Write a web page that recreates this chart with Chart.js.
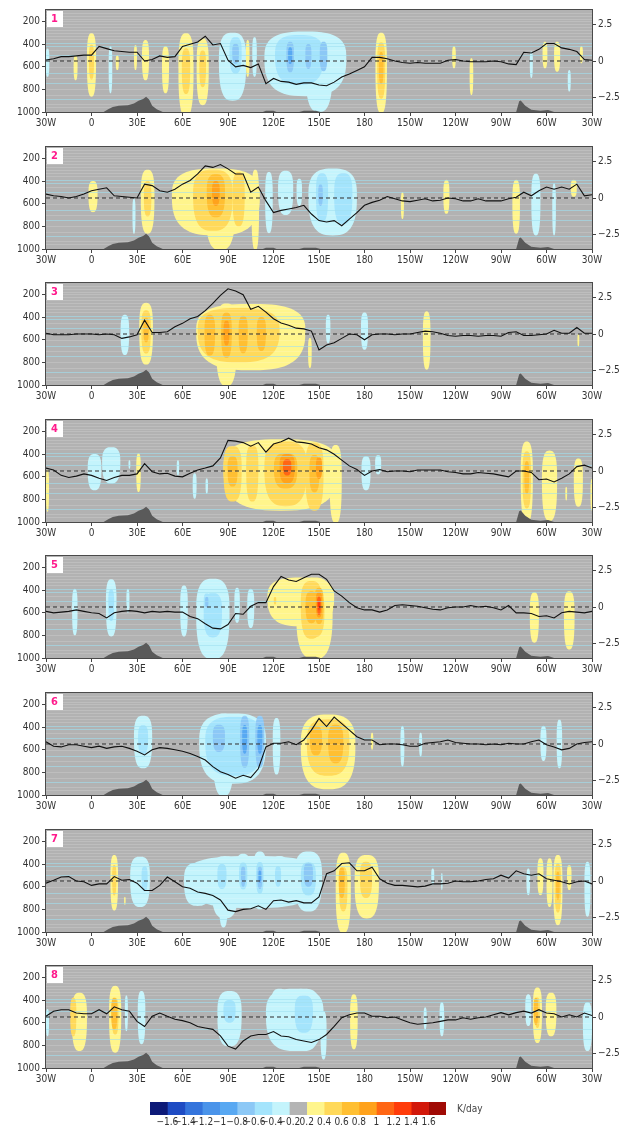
<!DOCTYPE html>
<html>
<head>
<meta charset="utf-8">
<script src="https://cdn.jsdelivr.net/npm/chart.js@4.4.1/dist/chart.umd.min.js"></script>
<style>
  html, body { margin: 0; padding: 0; background: #fff; }
  body { width: 630px; height: 1133px; position: relative; overflow: hidden; }
  canvas { position: absolute; left: 0; }
</style>
</head>
<body>
<script>
// longitude grid of the index curve (degrees east, -30 = 30W, 330 = 30W again)
const lonGrid = [
  -30, -25, -20, -15, -10, -5,
  0, 5, 10, 15, 20, 25,
  30, 35, 40, 45, 50, 55,
  60, 65, 70, 75, 80, 85,
  90, 95, 100, 105, 110, 115,
  120, 125, 130, 135, 140, 145,
  150, 155, 160, 165, 170, 175,
  180, 185, 190, 195, 200, 205,
  210, 215, 220, 225, 230, 235,
  240, 245, 250, 255, 260, 265,
  270, 275, 280, 285, 290, 295,
  300, 305, 310, 315, 320, 325,
  330
];

const lonTicks = [-30, 0, 30, 60, 90, 120, 150, 180, 210, 240, 270, 300, 330];
const lonLabels = ["30W", "0", "30E", "60E", "90E", "120E", "150E", "180", "150W", "120W", "90W", "60W", "30W"];
const pressureTicks = [200, 400, 600, 800, 1000];
const indexTicks = [-2.5, 0, 2.5];
const indexLabels = ["\u22122.5", "0", "2.5"];

// index curve per phase (right axis)
const curve1 = [
  0.07, 0.15, 0.3, 0.3, 0.35, 0.4,
  0.4, 1.0, 0.85, 0.7, 0.65, 0.6,
  0.6, 0.0, 0.1, 0.35, 0.25, 0.3,
  1.0, 1.15, 1.3, 1.7, 1.1, 1.2,
  0.05, -0.4, -0.3, -0.45, -0.2, -1.55,
  -1.2, -1.4, -1.45, -1.6, -1.5, -1.5,
  -1.65, -1.7, -1.45, -1.1, -0.9, -0.65,
  -0.4, 0.25, 0.25, 0.15, 0.0, -0.1,
  -0.15, -0.1, -0.15, -0.15, -0.15, 0.05,
  0.1, 0.0, -0.05, -0.05, -0.05, 0.0,
  -0.05, -0.2, -0.25, 0.6, 0.55, 0.8,
  1.2, 1.2, 0.9, 0.8, 0.65, 0.1,
  0.05
];
const curve2 = [
  0.27, 0.15, 0.1, 0.0, 0.1, 0.27,
  0.5, 0.6, 0.7, 0.15, 0.1, 0.05,
  0.0, 0.95, 0.85, 0.5, 0.4, 0.6,
  0.95, 1.2, 1.65, 2.2, 2.1, 2.3,
  2.0, 1.65, 1.65, 0.4, 0.75, -0.2,
  -1.0, -0.85, -0.75, -0.65, -0.5, -1.1,
  -1.55, -1.65, -1.55, -1.9, -1.45, -1.0,
  -0.5, -0.3, -0.15, 0.1, -0.05, -0.2,
  -0.25, -0.15, -0.05, -0.2, -0.15, 0.0,
  -0.05, -0.2, -0.2, -0.05, -0.2, -0.2,
  -0.2, -0.05, 0.05, 0.4, 0.15, 0.5,
  0.75, 0.6, 0.75, 0.6, 0.95, 0.15,
  0.22
];
const curve3 = [
  0.05, -0.05, -0.05, -0.05, 0.0, 0.0,
  0.0, -0.05, 0.0, -0.05, -0.3, -0.2,
  -0.05, 0.95, 0.1, 0.1, 0.15, 0.5,
  0.73, 1.05, 1.2, 1.6, 2.1, 2.65,
  3.1, 2.95, 2.7, 1.7, 1.9, 1.5,
  1.05, 0.75, 0.6, 0.4, 0.35, 0.2,
  -1.1, -0.75, -0.6, -0.3, 0.0, -0.05,
  -0.4, -0.05, 0.0, 0.0, -0.05, 0.0,
  0.0, 0.1, 0.2, 0.15, 0.05, -0.1,
  -0.15, -0.1, -0.1, -0.15, -0.1, -0.1,
  -0.15, 0.1, 0.15, -0.1, -0.1, -0.05,
  0.0, 0.25, 0.05, 0.05, 0.45, 0.05,
  0.05
];
const curve4 = [
  0.2, 0.07, -0.3, -0.45, -0.35, -0.2,
  -0.3, -0.5, -0.65, -0.45, -0.3, -0.3,
  -0.2, 0.5, -0.05, -0.2, -0.15, -0.35,
  -0.4, -0.15, 0.07, 0.2, 0.35, 0.9,
  2.1, 2.05, 1.95, 1.7, 1.95, 1.3,
  1.85, 2.0, 2.25, 2.0, 1.95, 1.85,
  1.6, 1.45, 1.15, 0.75, 0.35, 0.1,
  -0.3, 0.0, 0.1, -0.05, 0.0, 0.0,
  -0.05, 0.07, 0.07, 0.07, 0.07, -0.05,
  -0.1, -0.2, -0.2, -0.1, -0.15, -0.2,
  -0.3, -0.4, 0.0, 0.0, -0.1, -0.6,
  -0.55, -0.75, -0.5, -0.2, 0.3, 0.4,
  0.2
];
const curve5 = [
  -0.3, -0.4, -0.35, -0.3, -0.2, -0.3,
  -0.4, -0.45, -0.75, -0.4, -0.3, -0.25,
  -0.3, -0.4, -0.3, -0.35, -0.3, -0.35,
  -0.35, -0.65, -0.8, -1.15, -1.45, -1.5,
  -1.2, -0.45, -0.5, 0.05, 0.3, 0.3,
  1.4, 2.1, 1.85, 1.75, 2.0, 2.25,
  2.25, 1.9, 1.1, 0.75, 0.3, -0.05,
  -0.2, -0.2, -0.35, -0.2, 0.1, 0.15,
  0.1, 0.05, -0.05, -0.15, -0.2, -0.05,
  0.0, 0.0, 0.1, 0.0, 0.05, -0.05,
  -0.2, 0.1, -0.4, -0.4, -0.45, -0.65,
  -0.6, -0.75, -0.4, -0.3, -0.35, -0.4,
  -0.3
];
const curve6 = [
  0.15, -0.15, -0.2, -0.05, -0.05, -0.15,
  -0.25, -0.15, -0.3, -0.2, -0.15, -0.3,
  -0.5, -0.75, -0.4, -0.25, -0.3, -0.4,
  -0.5, -0.65, -0.85, -1.1, -1.55, -1.9,
  -2.1, -2.35, -2.15, -2.3, -1.7, -0.2,
  0.05, 0.05, 0.15, -0.05, 0.27, 0.95,
  1.75, 1.2, 1.85, 1.4, 0.95, 0.5,
  0.27, 0.27, -0.05, 0.0, 0.0, -0.05,
  -0.15, -0.15, 0.05, 0.1, 0.15, 0.27,
  0.1, 0.05, 0.0, 0.0, -0.05, 0.0,
  -0.05, 0.05, 0.0, 0.0, 0.15, 0.27,
  -0.05, -0.2, -0.4, -0.3, 0.0, 0.1,
  0.15
];
const curve7 = [
  -0.15, 0.05, 0.27, 0.3, 0.0, -0.05,
  -0.3, -0.2, -0.2, 0.3, 0.05, 0.1,
  -0.15, -0.65, -0.65, -0.3, 0.27, -0.05,
  -0.4, -0.5, -0.75, -0.85, -1.0, -1.3,
  -2.0, -2.1, -1.95, -1.9, -1.7, -1.95,
  -1.35, -1.3, -1.45, -1.35, -1.5, -1.5,
  -1.1, 0.5, 0.7, 1.2, 1.25, 0.7,
  0.7, 0.95, 0.15, -0.15, -0.3, -0.3,
  -0.35, -0.4, -0.35, -0.2, -0.2, -0.15,
  0.0, -0.05, -0.05, 0.0, 0.1, 0.15,
  0.4, 0.2, 0.7, 0.5, 0.4, 0.5,
  0.15, 0.05, -0.05, -0.2, -0.05, 0.0,
  -0.2
];
const curve8 = [
  0.05, 0.4, 0.5, 0.5, 0.27, 0.22,
  0.22, 0.5, 0.22, 0.7, 0.5, 0.4,
  -0.3, -0.65, 0.05, 0.27, 0.05, -0.15,
  -0.25, -0.4, -0.65, -0.75, -0.85, -1.3,
  -2.0, -2.2, -1.65, -1.3, -1.2, -1.2,
  -1.0, -1.3, -1.35, -1.55, -1.65, -1.75,
  -1.55, -1.2, -0.65, -0.05, 0.15, 0.27,
  0.27, 0.05, 0.05, -0.05, 0.0, -0.2,
  -0.4, -0.5, -0.45, -0.4, -0.3, -0.2,
  -0.2, -0.05, -0.15, -0.05, 0.0, 0.15,
  0.3, 0.15, 0.3, 0.4, 0.27, 0.5,
  0.27, 0.22, 0.0, 0.15, 0.0, 0.27,
  0.1
];

// heating cells: [lon, half width (deg), top hPa, bottom hPa, outer level, inner level]
// positive levels are warm shades, negative levels cold shades
const cells1 = [
  [-29, 1.2, 440, 690, -1, -1], [-10.5, 1.3, 500, 720, 1, 1], [0, 3, 305, 865, 1, 2],
  [12.5, 1.2, 420, 835, -1, -1], [17, 1, 500, 630, 1, 1], [29, 1, 410, 630, 1, 1],
  [35.6, 2.3, 365, 720, 1, 1], [48.8, 2.3, 420, 835, 1, 1], [62.3, 5, 305, 1040, 1, 2],
  [73.3, 4, 350, 940, 1, 2],
  [93, 9, 300, 900, -1, -1], [95, 4, 340, 660, -2, -3],
  [103, 1.2, 365, 690, 1, 1], [107.5, 1.5, 340, 690, -1, -1],
  [141, 27, 290, 860, -1, -1], [150, 9, 300, 1000, -1, -1], [137, 16, 320, 760, -2, -2],
  [131, 2.5, 380, 650, -3, -4], [143, 2, 400, 620, -3, -3], [153, 2.5, 380, 640, -3, -3],
  [191, 3.8, 300, 1010, 1, 3], [239, 1.2, 420, 615, 1, 1], [250.5, 1.2, 525, 850, 1, 1],
  [290, 1, 465, 700, -1, -1], [299, 1.6, 380, 615, 1, 1], [307, 2, 380, 645, 1, 1],
  [315, 1, 630, 820, -1, -1], [323, 1, 420, 570, 1, 1]
];
const cells2 = [
  [1, 3, 400, 675, 1, 1], [28, 1, 555, 865, -1, -1], [37, 4.5, 300, 865, 1, 2],
  [82, 29, 290, 880, 1, 1], [85, 10, 300, 1010, 1, 1], [108, 2.5, 300, 1010, 1, 1],
  [80, 13, 300, 840, 2, 2], [97, 4, 320, 800, 2, 2], [82, 6, 340, 720, 3, 3],
  [82, 2.5, 400, 620, 4, 4],
  [117, 2.5, 320, 860, -1, -1], [128, 5, 310, 700, -1, -1], [137, 1.8, 380, 620, -1, -1],
  [159, 16, 290, 880, -1, -1], [152, 4, 330, 760, -2, -2], [166, 6, 330, 780, -2, -2],
  [151, 1.5, 430, 620, -3, -3],
  [205, 1, 500, 735, 1, 1], [234, 2, 390, 690, 1, 1], [280, 2.5, 390, 865, 1, 1],
  [293, 3, 335, 880, -1, -1], [305, 1.2, 420, 880, -1, -1], [318, 2, 390, 540, 1, 1]
];
const cells3 = [
  [22, 2.8, 380, 735, -1, -1], [36, 4.5, 275, 820, 1, 3],
  [105, 36, 285, 870, 1, 1], [89, 7, 280, 1010, 1, 1], [97, 27, 320, 800, 2, 2],
  [78, 3.5, 380, 740, 3, 3], [89, 3.5, 360, 760, 3, 4], [100, 3, 390, 720, 3, 3],
  [112, 3, 400, 700, 3, 3], [144, 1.2, 585, 850, 1, 1], [156, 1.5, 380, 630, -1, -1],
  [180, 2.3, 360, 690, -1, -1], [221, 2.5, 350, 865, 1, 1], [321, 0.6, 550, 660, 1, 1]
];
const cells4 = [
  [-29, 1, 540, 910, 1, 1], [2, 4.5, 400, 720, -1, -1], [13, 6, 340, 660, -1, -1],
  [25, 0.6, 455, 530, -1, -1], [31, 1.5, 395, 735, 1, 1], [57, 0.8, 455, 590, -1, -1],
  [68, 1.3, 570, 795, -1, -1], [76, 0.8, 615, 750, -1, -1],
  [125, 38, 270, 900, 1, 1], [93, 6, 330, 820, 2, 3], [106, 4, 320, 820, 2, 2],
  [128, 14, 290, 860, 2, 3], [129, 5, 400, 660, 4, 5], [147, 6, 300, 900, 2, 3],
  [150, 2, 430, 620, 4, 4], [161, 4, 320, 1010, 1, 1],
  [181, 3, 420, 720, -1, -1], [189, 2, 410, 580, -1, -1], [287, 4, 290, 1010, 1, 3],
  [302, 5, 370, 990, 1, 1], [313, 0.6, 690, 810, 1, 1], [321, 3, 440, 865, 1, 1],
  [330, 1, 620, 900, 1, 1]
];
const cells5 = [
  [-11, 1.8, 390, 800, -1, -1], [13, 3.5, 305, 810, -1, -2], [24, 1, 390, 600, -1, -1],
  [61, 2.5, 360, 810, -1, -1], [80, 11, 300, 1010, -1, -2], [76, 2, 430, 600, -2, -3],
  [96, 1.8, 380, 690, -1, -1], [105, 2.3, 390, 735, -1, -1],
  [138, 22, 290, 720, 1, 1], [147, 12, 290, 1010, 1, 2], [145, 7, 320, 830, 2, 3],
  [150, 3, 380, 700, 3, 5], [150, 1.2, 470, 620, 5, 6], [121, 1.5, 440, 560, 1, 2],
  [292, 3, 420, 865, 1, 1], [315, 3.5, 410, 925, 1, 1]
];
const cells6 = [
  [34, 6, 300, 765, -1, -2],
  [93, 22, 280, 900, -1, -1], [87, 7, 280, 1010, -1, -1], [94, 19, 310, 830, -2, -2],
  [84, 4, 380, 620, -3, -3], [101, 3, 300, 760, -3, -4], [111, 3, 300, 760, -3, -4],
  [122, 2.5, 320, 820, -1, -1],
  [156, 18, 290, 950, 1, 1], [156, 14, 330, 830, 2, 2], [148, 4, 390, 650, 3, 3],
  [161, 5, 380, 720, 3, 3], [185, 0.8, 450, 600, 1, 1], [205, 1.3, 390, 750, -1, -1],
  [217, 1, 450, 660, -1, -1], [298, 2, 390, 700, -1, -1], [308.5, 1.8, 335, 765, -1, -1]
];
const cells7 = [
  [15, 2.5, 320, 810, 1, 2], [22, 0.5, 690, 760, 1, 1], [32, 6.5, 335, 780, -1, -1],
  [35, 2, 420, 640, -2, -2], [106, 44, 330, 790, -1, -1], [70, 9, 390, 770, -1, -1],
  [87, 3, 420, 960, -1, -1], [88, 9, 330, 880, -1, -1], [86, 3, 400, 620, -2, -2],
  [100, 5, 310, 740, -1, -2], [100, 1.5, 420, 600, -3, -3], [111, 4.5, 290, 800, -1, -2],
  [111, 1.6, 420, 620, -3, -4], [124, 6, 330, 780, -1, -1], [123, 2, 420, 600, -2, -2],
  [143, 9, 290, 820, -1, -2], [143, 3, 390, 600, -3, -3], [166, 5, 300, 1010, 1, 2],
  [165, 2, 430, 700, 3, 3], [181.5, 8, 320, 880, 1, 1], [181, 4, 380, 700, 2, 2],
  [225, 1, 440, 585, -1, -1], [231, 0.5, 480, 630, -1, -1], [288, 1.2, 440, 675, -1, -1],
  [296, 2, 350, 675, 1, 1], [302, 2, 350, 780, 1, 1], [307.5, 3, 320, 940, 1, 3],
  [315, 1.5, 410, 630, 1, 1], [327, 2, 380, 865, -1, -1]
];
const cells8 = [
  [-29, 1, 480, 720, -1, -1], [-8, 5, 335, 850, 1, 1], [-12, 2, 380, 720, 2, 2],
  [15.6, 4, 275, 865, 1, 2], [15, 2, 380, 660, 3, 3], [23, 1, 360, 675, -1, -1],
  [33, 2.5, 320, 790, -1, -1], [91, 8, 320, 810, -1, -1], [91, 4, 400, 600, -2, -2],
  [134, 19, 300, 850, -1, -1], [124, 6, 300, 780, -1, -1], [140, 11, 300, 850, -1, -1],
  [140, 6, 360, 690, -2, -2], [153, 2, 500, 925, -1, -1], [173, 2.5, 350, 835, 1, 1],
  [220, 1, 465, 660, -1, -1], [231, 1.5, 420, 720, -1, -1], [288, 2, 350, 630, -1, -1],
  [294, 3, 290, 780, 1, 2], [293, 1.5, 380, 620, 3, 3], [303, 3.5, 335, 720, 1, 1],
  [327, 3, 420, 850, -1, -1]
];

// terrain outline (lon, surface pressure)
const terrainLon = [8, 11, 14, 18, 24, 28, 31, 34, 36, 38, 40, 43, 47,
  113, 115, 120, 122, 137, 140, 148, 151,
  280, 282, 283, 286, 290, 296, 301, 305];
const terrainP = [1000, 975, 955, 945, 940, 925, 900, 885, 866, 890, 945, 975, 1000,
  1000, 990, 988, 1000, 1000, 990, 988, 1000,
  1000, 905, 898, 945, 980, 988, 982, 1000];

// model levels drawn as faint horizontal rules
const greyLevels = [125, 150, 175, 200, 225, 250, 275, 300, 330, 360, 450, 550, 600, 700, 800, 850, 925, 960];
const blueLevels = [387, 422, 496, 659, 748, 881];

// colour bar
const barLabels = ["\u22121.6", "\u22121.4", "\u22121.2", "\u22121", "\u22120.8", "\u22120.6", "\u22120.4", "\u22120.2",
  "0.2", "0.4", "0.6", "0.8", "1", "1.2", "1.4", "1.6"];
const barColors = ["#0d1a78", "#1e4bc3", "#3474dc", "#4a94ea", "#58a8f2", "#8cc8f6", "#a4e4fc", "#c4f4fc",
  "#b4b4b4", "#fff58c", "#ffd95a", "#ffbf32", "#ffa21c", "#ff6614", "#ff3c0a", "#d2180a", "#a00a05"];

const WARM = barColors.slice(9);
const COLD = barColors.slice(0, 8).reverse();
const FIELD_BG = "#b2b2b2";
const SHAPE_EXP = 2.8;
const FONT = "'Liberation Sans Narrow', 'DejaVu Sans Condensed', 'Arial Narrow', sans-serif";

Chart.defaults.font.family = FONT;
Chart.defaults.color = "#333";

function cellPath(ctx, cx, cy, rx, up, down) {
  ctx.beginPath();
  for (let k = 0; k < 72; k++) {
    const t = (k / 72) * Math.PI * 2;
    const c = Math.cos(t);
    const s = Math.sin(t);
    const px = cx + rx * Math.sign(c) * Math.pow(Math.abs(c), 2 / SHAPE_EXP);
    const py = cy + (s < 0 ? up : down) * Math.sign(s) * Math.pow(Math.abs(s), 2 / SHAPE_EXP);
    if (k === 0) ctx.moveTo(px, py);
    else ctx.lineTo(px, py);
  }
  ctx.closePath();
}

function fieldLayer(cells, tag) {
  return {
    id: "field" + tag,
    beforeDatasetsDraw(chart) {
      const { ctx, chartArea: a, scales } = chart;
      const x = scales.x;
      const y = scales.y;
      const w = a.right - a.left;
      const h = a.bottom - a.top;

      ctx.save();
      ctx.beginPath();
      ctx.rect(a.left, a.top, w, h);
      ctx.clip();
      ctx.fillStyle = FIELD_BG;
      ctx.fillRect(a.left, a.top, w, h);

      // paint level by level so inner shades sit on top of outer ones
      for (let lv = 1; lv <= 8; lv++) {
        cells.forEach(([lon, hw, pTop, pBot, lo, hi]) => {
          const from = Math.abs(lo);
          const to = Math.abs(hi);
          if (lv < from || lv > to) return;
          const s = 1 - ((lv - from) / (to - from + 1)) * 0.9;
          const anchor = pTop + 0.4 * (pBot - pTop);
          const cx = x.getPixelForValue(lon);
          const rx = Math.abs(x.getPixelForValue(lon + hw * s) - cx);
          const cy = y.getPixelForValue(anchor);
          const up = cy - y.getPixelForValue(anchor - s * (anchor - pTop));
          const down = y.getPixelForValue(anchor + s * (pBot - anchor)) - cy;
          ctx.fillStyle = (hi > 0 ? WARM : COLD)[lv - 1];
          cellPath(ctx, cx, cy, rx, up, down);
          ctx.fill();
        });
      }

      ctx.lineWidth = 1;
      ctx.strokeStyle = "rgba(255,255,255,0.16)";
      greyLevels.forEach(p => {
        const py = Math.round(y.getPixelForValue(p)) + 0.5;
        ctx.beginPath();
        ctx.moveTo(a.left, py);
        ctx.lineTo(a.right, py);
        ctx.stroke();
      });
      ctx.strokeStyle = "rgba(160,224,240,0.6)";
      blueLevels.forEach(p => {
        const py = Math.round(y.getPixelForValue(p)) + 0.5;
        ctx.beginPath();
        ctx.moveTo(a.left, py);
        ctx.lineTo(a.right, py);
        ctx.stroke();
      });

      ctx.fillStyle = "#5a5a5a";
      ctx.beginPath();
      ctx.moveTo(x.getPixelForValue(terrainLon[0]), y.getPixelForValue(1000));
      terrainLon.forEach((lon, i) => ctx.lineTo(x.getPixelForValue(lon), y.getPixelForValue(terrainP[i])));
      ctx.lineTo(x.getPixelForValue(terrainLon[terrainLon.length - 1]), y.getPixelForValue(1000));
      ctx.closePath();
      ctx.fill();
      ctx.restore();
    },
    afterDatasetsDraw(chart) {
      const { ctx, chartArea: a } = chart;
      ctx.save();
      ctx.strokeStyle = "#4a4a4a";
      ctx.lineWidth = 1;
      ctx.strokeRect(a.left - 0.5, a.top - 0.5, a.right - a.left + 1, a.bottom - a.top + 1);
      ctx.fillStyle = "#fff";
      ctx.fillRect(a.left + 1, a.top + 1, 16, 16);
      ctx.fillStyle = "#ff1a8c";
      ctx.font = "bold 11px " + FONT;
      ctx.textAlign = "center";
      ctx.textBaseline = "middle";
      ctx.fillText(String(tag), a.left + 8.5, a.top + 9.5);
      ctx.restore();
    }
  };
}

function buildPanel(index, curve, cells) {
  const canvas = document.createElement("canvas");
  canvas.width = 630;
  canvas.height = 137;
  canvas.style.top = Math.round(index * 136.6) + "px";
  document.body.appendChild(canvas);

  const tickFont = { size: 10 };
  const tickGrid = { drawOnChartArea: false, drawTicks: true, tickLength: 4, color: "#444" };

  new Chart(canvas, {
    type: "line",
    data: {
      datasets: [
        {
          data: lonGrid.map((lon, i) => ({ x: lon, y: curve[i] })),
          yAxisID: "yr",
          borderColor: "#111",
          borderWidth: 1.1,
          pointRadius: 0,
          tension: 0
        },
        {
          data: [{ x: -30, y: 0 }, { x: 330, y: 0 }],
          yAxisID: "yr",
          borderColor: "#2a2a2a",
          borderWidth: 1.1,
          borderDash: [4, 3],
          pointRadius: 0
        }
      ]
    },
    options: {
      responsive: false,
      animation: false,
      devicePixelRatio: 1,
      layout: { autoPadding: false, padding: { top: 10, left: 0, right: 0, bottom: 0 } },
      plugins: { legend: { display: false }, tooltip: { enabled: false } },
      scales: {
        x: {
          type: "linear",
          min: -30,
          max: 330,
          afterBuildTicks: s => { s.ticks = lonTicks.map(v => ({ value: v })); },
          afterFit: s => { s.height = 25; },
          ticks: {
            autoSkip: false,
            maxRotation: 0,
            padding: 1,
            font: tickFont,
            callback: (v, i) => lonLabels[i]
          },
          grid: tickGrid,
          border: { display: false }
        },
        y: {
          type: "linear",
          position: "left",
          reverse: true,
          min: 100,
          max: 1000,
          afterBuildTicks: s => { s.ticks = pressureTicks.map(v => ({ value: v })); },
          afterFit: s => { s.width = 46; },
          ticks: { autoSkip: false, padding: 2, font: tickFont, callback: v => String(v) },
          grid: tickGrid,
          border: { display: false }
        },
        yr: {
          type: "linear",
          position: "right",
          min: -3.5,
          max: 3.5,
          afterBuildTicks: s => { s.ticks = indexTicks.map(v => ({ value: v })); },
          afterFit: s => { s.width = 38; },
          ticks: { autoSkip: false, padding: 2, font: tickFont, callback: (v, i) => indexLabels[i] },
          grid: tickGrid,
          border: { display: false }
        }
      }
    },
    plugins: [fieldLayer(cells, index + 1)]
  });
}

[
  [curve1, cells1], [curve2, cells2], [curve3, cells3], [curve4, cells4],
  [curve5, cells5], [curve6, cells6], [curve7, cells7], [curve8, cells8]
].forEach(([curve, cells], i) => buildPanel(i, curve, cells));

// colour bar with unit label
const barCanvas = document.createElement("canvas");
barCanvas.width = 630;
barCanvas.height = 38;
barCanvas.style.top = "1095px";
document.body.appendChild(barCanvas);

const unitLabel = {
  id: "unitLabel",
  afterDraw(chart) {
    const ctx = chart.ctx;
    ctx.save();
    ctx.fillStyle = "#444";
    ctx.font = "10px " + FONT;
    ctx.textAlign = "left";
    ctx.textBaseline = "middle";
    ctx.fillText("K/day", 457, 14);
    ctx.restore();
  }
};

new Chart(barCanvas, {
  type: "bar",
  data: {
    labels: [""],
    datasets: barColors.map(c => ({
      data: [1],
      backgroundColor: c,
      borderWidth: 0,
      barPercentage: 1,
      categoryPercentage: 1
    }))
  },
  options: {
    indexAxis: "y",
    responsive: false,
    animation: false,
    devicePixelRatio: 1,
    layout: { autoPadding: false, padding: { left: 150, right: 184, top: 7, bottom: 0 } },
    plugins: { legend: { display: false }, tooltip: { enabled: false } },
    scales: {
      x: {
        stacked: true,
        min: 0,
        max: 17,
        afterBuildTicks: s => { s.ticks = barLabels.map((_, i) => ({ value: i + 1 })); },
        afterFit: s => { s.height = 18; },
        ticks: {
          autoSkip: false,
          maxRotation: 0,
          padding: 1,
          font: { size: 10 },
          callback: (v, i) => barLabels[i]
        },
        grid: { display: false, drawTicks: false },
        border: { display: false }
      },
      y: { stacked: true, display: false }
    }
  },
  plugins: [unitLabel]
});
</script>
</body>
</html>
